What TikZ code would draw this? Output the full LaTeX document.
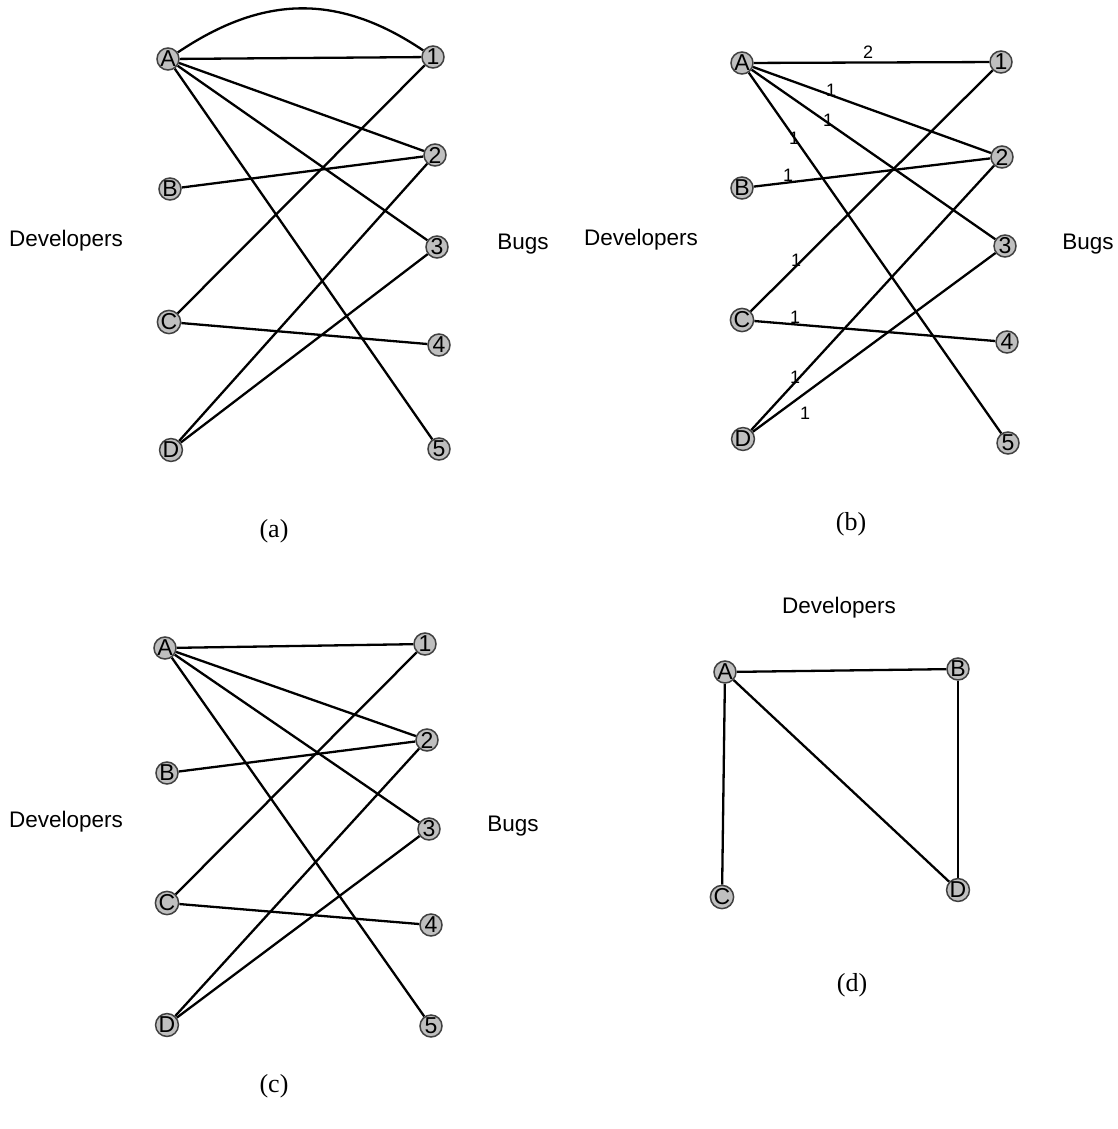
\documentclass[tikz,border=0pt]{standalone}
\usepackage{fontspec}
\setmainfont{Liberation Serif}
\setsansfont{Liberation Sans}
\usetikzlibrary{backgrounds}
\begin{document}
\begin{tikzpicture}[x=1pt,y=-1pt,
  vtx/.style={circle, draw=black!75, line width=1.5pt, fill=black!25, minimum size=22pt, inner sep=0pt, font=\sffamily\fontsize{23}{23}\selectfont},
  edge/.style={line width=2.3pt, black},
  lbl/.style={font=\sffamily\fontsize{22.5}{22.5}\selectfont},
  elbl/.style={font=\sffamily\fontsize{18}{18}\selectfont, inner sep=0pt},
  captxt/.style={font=\rmfamily\fontsize{26}{26}\selectfont}]
\useasboundingbox (0,0) rectangle (1117,1129);
% ---------- (a)
\node[vtx] (aA) at (168,59) {A};
\node[vtx] (aB) at (170,189) {B};
\node[vtx] (aC) at (169,322) {C};
\node[vtx] (aD) at (171,450) {D};
\node[vtx] (a1) at (433,57) {1};
\node[vtx] (a2) at (435,155) {2};
\node[vtx] (a3) at (437,247) {3};
\node[vtx] (a4) at (439,345) {4};
\node[vtx] (a5) at (439,449) {5};
\node[lbl] (aDev) at (66,241) {Developers};
\node[lbl] (aBug) at (523,244) {Bugs};
\node[captxt] (acap) at (274,531) {(a)};
\begin{pgfonlayer}{background}
\draw[edge] (aA) .. controls +(95,-64) and +(-95,-64) .. (a1);
\draw[edge] (aA) -- (a1);
\draw[edge] (aA) -- (a2);
\draw[edge] (aA) -- (a3);
\draw[edge] (aA) -- (a5);
\draw[edge] (aB) -- (a2);
\draw[edge] (aC) -- (a1);
\draw[edge] (aC) -- (a4);
\draw[edge] (aD) -- (a2);
\draw[edge] (aD) -- (a3);
\end{pgfonlayer}
% ---------- (b)
\node[vtx] (bA) at (742,63) {A};
\node[vtx] (bB) at (742,188) {B};
\node[vtx] (bC) at (742,320) {C};
\node[vtx] (bD) at (743,439) {D};
\node[vtx] (b1) at (1001,62) {1};
\node[vtx] (b2) at (1002,157) {2};
\node[vtx] (b3) at (1005,246) {3};
\node[vtx] (b4) at (1007,342) {4};
\node[vtx] (b5) at (1008,443) {5};
\node[lbl] (bDev) at (641,240) {Developers};
\node[lbl] (bBug) at (1088,244) {Bugs};
\node[captxt] (bcap) at (851,524) {(b)};
\begin{pgfonlayer}{background}
\draw[edge] (bA) -- (b1);
\draw[edge] (bA) -- (b2);
\draw[edge] (bA) -- (b3);
\draw[edge] (bA) -- (b5);
\draw[edge] (bB) -- (b2);
\draw[edge] (bC) -- (b1);
\draw[edge] (bC) -- (b4);
\draw[edge] (bD) -- (b2);
\draw[edge] (bD) -- (b3);
\end{pgfonlayer}
\node[elbl] (l1) at (868,52) {2};
\node[elbl] (l2) at (831,90) {1};
\node[elbl] (l3) at (828,120) {1};
\node[elbl] (l4) at (794,138) {1};
\node[elbl] (l5) at (788,175) {1};
\node[elbl] (l6) at (796,260) {1};
\node[elbl] (l7) at (795,317) {1};
\node[elbl] (l8) at (795,377) {1};
\node[elbl] (l9) at (805,413) {1};
% ---------- (c)
\node[vtx] (cA) at (165,648) {A};
\node[vtx] (cB) at (167,773) {B};
\node[vtx] (cC) at (167,903) {C};
\node[vtx] (cD) at (167,1025) {D};
\node[vtx] (c1) at (425,644) {1};
\node[vtx] (c2) at (427,740) {2};
\node[vtx] (c3) at (429,829) {3};
\node[vtx] (c4) at (431,925) {4};
\node[vtx] (c5) at (431,1026) {5};
\node[lbl] (cDev) at (66,822) {Developers};
\node[lbl] (cBug) at (513,826) {Bugs};
\node[captxt] (ccap) at (274,1086) {(c)};
\begin{pgfonlayer}{background}
\draw[edge] (cA) -- (c1);
\draw[edge] (cA) -- (c2);
\draw[edge] (cA) -- (c3);
\draw[edge] (cA) -- (c5);
\draw[edge] (cB) -- (c2);
\draw[edge] (cC) -- (c1);
\draw[edge] (cC) -- (c4);
\draw[edge] (cD) -- (c2);
\draw[edge] (cD) -- (c3);
\end{pgfonlayer}
% ---------- (d)
\node[vtx] (dA) at (725,672) {A};
\node[vtx] (dB) at (958,669) {B};
\node[vtx] (dC) at (722,897) {C};
\node[vtx] (dD) at (958,890) {D};
\node[lbl] (dDev) at (839,608) {Developers};
\node[captxt] (dcap) at (852,985) {(d)};
\begin{pgfonlayer}{background}
\draw[edge] (dA) -- (dB);
\draw[edge] (dA) -- (dC);
\draw[edge] (dA) -- (dD);
\draw[edge] (dB) -- (dD);
\end{pgfonlayer}
\end{tikzpicture}
\end{document}
